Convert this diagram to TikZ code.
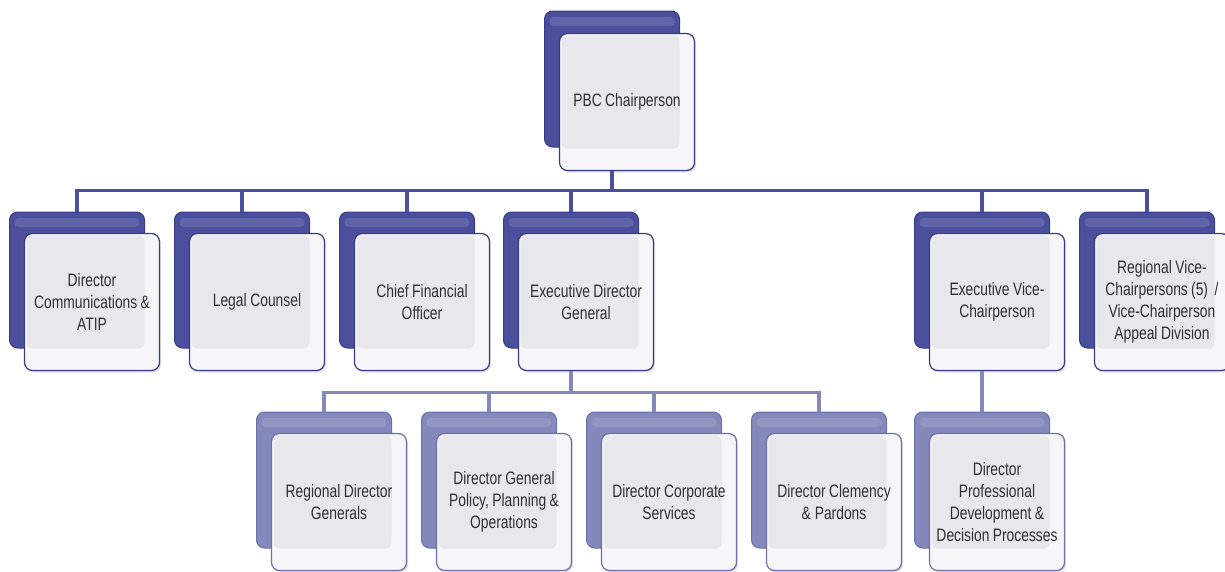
\documentclass[tikz,border=0pt]{standalone}
\usepackage{fontspec}
\setmainfont{Liberation Sans}[FakeStretch=0.77]
\usetikzlibrary{shadows}
\definecolor{navy}{HTML}{4B4F9C}
\definecolor{navyline}{HTML}{383C86}
\definecolor{lilac}{HTML}{8588BA}
\definecolor{lilacline}{HTML}{6C6FA9}
\definecolor{paper}{HTML}{E8E8EC}
\definecolor{sheet}{HTML}{F6F6F9}
\definecolor{ink}{HTML}{303030}

\begin{document}
\begin{tikzpicture}[x=1pt, y=-1pt,
	backbox/.style={draw=navyline, line width=1pt, fill=navy, rounded corners=8pt,
		minimum width=135pt, minimum height=136pt, inner sep=0pt,
		path picture={\fill[white, opacity=0.12, rounded corners=4pt]
			([xshift=5pt, yshift=-6pt]path picture bounding box.north west) rectangle
			([xshift=-5pt, yshift=-15pt]path picture bounding box.north east);}},
	lowback/.style={backbox, draw=lilacline, fill=lilac},
	frontbox/.style={draw=navyline, line width=1.2pt, fill=sheet, rounded corners=8pt,
		minimum width=135pt, minimum height=137pt, inner sep=2pt,
		text width=131pt, align=center, text=ink, font=\fontsize{18}{22}\selectfont,
		execute at begin node={\spaceskip=0.17em plus 0.05em\relax},
		drop shadow={opacity=0.25, shadow xshift=1.5pt, shadow yshift=-2pt},
		path picture={\fill[paper, rounded corners=6pt]
			([xshift=2pt, yshift=-2pt]path picture bounding box.north west) rectangle
			([xshift=-15pt, yshift=22pt]path picture bounding box.south east);}},
	lowfront/.style={frontbox, draw=lilacline},
	busline/.style={draw=navy, line width=3.2pt},
	subline/.style={draw=lilac, line width=3.2pt}
	]
	\useasboundingbox (0,0) rectangle (1225,571);
	
	%chairperson
	\node[backbox] (chairb) at (612, 79) {};
	\node[frontbox] (chair) at (627, 102) {PBC Chairperson};
	
	%first level
	\node[backbox] (commsb) at (77, 280) {};
	\node[frontbox] (comms) at (92, 302) {Director\\ Communications \&\\ ATIP};
	\node[backbox] (legalb) at (242, 280) {};
	\node[frontbox] (legal) at (257, 302) {Legal Counsel};
	\node[backbox] (cfob) at (407, 280) {};
	\node[frontbox] (cfo) at (422, 302) {Chief Financial\\ Officer};
	\node[backbox] (edgb) at (571, 280) {};
	\node[frontbox] (edg) at (586, 302) {Executive Director\\ General};
	\node[backbox] (evcb) at (982, 280) {};
	\node[frontbox] (evc) at (997, 302) {Executive Vice-\\ Chairperson};
	\node[backbox] (rvcb) at (1147, 280) {};
	\node[frontbox] (rvc) at (1162, 302) {Regional Vice-\\ Chairpersons (5)~~/\\ Vice-Chairperson\\ Appeal Division};
	
	%second level
	\node[lowback] (rdgb) at (324, 480) {};
	\node[lowfront] (rdg) at (339, 502) {Regional Director\\ Generals};
	\node[lowback] (dgpb) at (489, 480) {};
	\node[lowfront] (dgp) at (504, 502) {Director General\\ Policy, Planning \&\\ Operations};
	\node[lowback] (dcsb) at (654, 480) {};
	\node[lowfront] (dcs) at (669, 502) {Director Corporate\\ Services};
	\node[lowback] (dcpb) at (819, 480) {};
	\node[lowfront] (dcp) at (834, 502) {Director Clemency\\ \& Pardons};
	\node[lowback] (dpdb) at (982, 480) {};
	\node[lowfront] (dpd) at (997, 502) {Director\\ Professional\\ Development \&\\ Decision Processes};
	
	%connectors
	\foreach \n in {commsb, legalb, cfob, edgb, evcb, rvcb}{
		\draw[busline] (chairb |- chair.south) -- ++(0,19) -| (\n.north);
	}
	\foreach \n in {rdgb, dgpb, dcsb, dcpb}{
		\draw[subline] (edgb |- edg.south) -- ++(0,21) -| (\n.north);
	}
	\draw[subline] (evcb |- evc.south) -- (dpdb.north);
\end{tikzpicture}
\end{document}
